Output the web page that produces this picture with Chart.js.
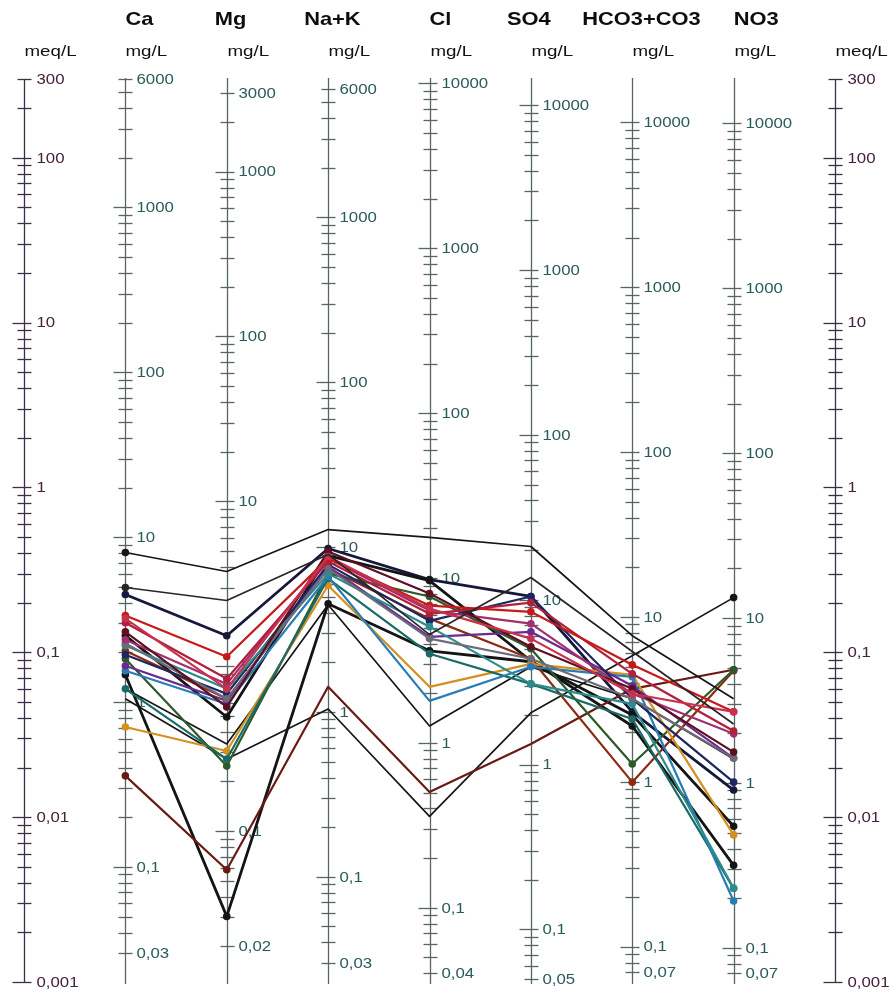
<!DOCTYPE html>
<html>
<head>
<meta charset="utf-8">
<script src="https://cdn.jsdelivr.net/npm/chart.js@4.4.1/dist/chart.umd.min.js"></script>
<style>
  html, body { margin: 0; padding: 0; background: #ffffff; }
  #wrap { width: 893px; height: 994px; position: relative; }
</style>
</head>
<body>
<div id="wrap"><canvas id="schoeller"></canvas></div>
<script>
// Ion columns of the Schoeller diagram and their equivalent weights (mg per meq)
const ions = ['Ca', 'Mg', 'Na+K', 'Cl', 'SO4', 'HCO3+CO3', 'NO3'];
const eqWeights = [20.04, 12.15, 23.0, 35.45, 48.03, 61.02, 62.0];

// Labelled mg/L values on each ion column (top to bottom)
const caLabels   = [6000, 1000, 100, 10, 1, 0.1, 0.03];
const mgLabels   = [3000, 1000, 100, 10, 1, 0.1, 0.02];
const naLabels   = [6000, 1000, 100, 10, 1, 0.1, 0.03];
const clLabels   = [10000, 1000, 100, 10, 1, 0.1, 0.04];
const so4Labels  = [10000, 1000, 100, 10, 1, 0.1, 0.05];
const hco3Labels = [10000, 1000, 100, 10, 1, 0.1, 0.07];
const no3Labels  = [10000, 1000, 100, 10, 1, 0.1, 0.07];
const columnLabels = [caLabels, mgLabels, naLabels, clLabels, so4Labels, hco3Labels, no3Labels];

// Labelled values on the meq/L axes
const meqLabels = [300, 100, 10, 1, 0.1, 0.01, 0.001];

// Sample concentrations in meq/L: Ca, Mg, Na+K, Cl, SO4, HCO3+CO3, NO3
const s01 = [0.403, 0.309, 0.555, 0.497, 0.438, 0.126, 0.0522];
const s02 = [0.247, 0.206, 0.392, 0.128, 0.284, 0.101, 0.0367];
const s03 = [0.224, 0.126, 0.426, 0.276, 0.218, 0.0435, 0.0146];
const s04 = [0.167, 0.094, 0.370, 0.192, 0.176, 0.0839, 0.0435];
const s05 = [0.151, 0.069, 0.355, 0.171, 0.200, 0.074, 0.0333];
const s06 = [0.133, 0.0466, 0.408, 0.227, 0.108, 0.060, 0.0248];
const s07 = [0.126, 0.0405, 0.386, 0.272, 0.0888, 0.0357, 0.0051];
const s08 = [0.110, 0.060, 0.300, 0.143, 0.0643, 0.0486, 0.0037];
const s09 = [0.0966, 0.056, 0.340, 0.155, 0.218, 0.0522, 0.0163];
const s10 = [0.0828, 0.0507, 0.331, 0.124, 0.133, 0.0626, 0.0228];
const s11 = [0.0772, 0.0486, 0.288, 0.0507, 0.0816, 0.071, 0.0031];
const s12 = [0.119, 0.0643, 0.370, 0.179, 0.149, 0.056, 0.032];
const s13 = [0.060, 0.0225, 0.280, 0.098, 0.0643, 0.0394, 0.0037];
const s14 = [0.0352, 0.0252, 0.254, 0.0617, 0.0851, 0.073, 0.0078];
const s15 = [0.0178, 0.0048, 0.0617, 0.0142, 0.0278, 0.060, 0.0783];
const s16 = [0.073, 0.0025, 0.197, 0.102, 0.0876, 0.0417, 0.0088];
const s17 = [0.0522, 0.0225, 0.0453, 0.0101, 0.0429, 0.0953, 0.2145];
const s18 = [0.060, 0.0278, 0.194, 0.0357, 0.0816, 0.0522, 0.0225];
const s19 = [0.0913, 0.0204, 0.300, 0.218, 0.105, 0.021, 0.0783];
const s20 = [0.102, 0.0522, 0.322, 0.160, 0.0913, 0.0163, 0.0772];
const s21 = [0.160, 0.060, 0.381, 0.184, 0.121, 0.056, 0.0435];
const s22 = [0.113, 0.0522, 0.322, 0.121, 0.0913, 0.0522, 0.0228];

// Line appearance for each sample (colour, width, which columns carry a dot)
const sampleStyles = [
  { data: s01, color: '#161616', width: 1.7, dots: [1,0,0,0,0,0,0] },
  { data: s02, color: '#2a2426', width: 1.7, dots: [1,0,0,0,0,0,0] },
  { data: s21, color: '#c8324e', width: 2.2, dots: [1,1,1,1,1,1,1] },
  { data: s04, color: '#c41a1a', width: 2.2, dots: [1,1,1,1,1,1,1] },
  { data: s05, color: '#b0203a', width: 2.2, dots: [1,1,1,1,1,1,1] },
  { data: s06, color: '#5c1020', width: 2.2, dots: [1,1,1,1,1,1,1] },
  { data: s12, color: '#a0306e', width: 2.2, dots: [1,1,1,1,1,1,1] },
  { data: s22, color: '#6e6a7a', width: 2.2, dots: [1,1,1,1,1,1,1] },
  { data: s08, color: '#2a8c8c', width: 2.2, dots: [1,1,1,1,1,1,1] },
  { data: s09, color: '#1c2660', width: 2.2, dots: [1,1,1,1,1,1,1] },
  { data: s10, color: '#6a2a8e', width: 2.2, dots: [1,1,1,1,1,1,1] },
  { data: s11, color: '#2a7cb4', width: 2.2, dots: [1,1,1,0,1,1,1] },
  { data: s13, color: '#1a6a66', width: 2.2, dots: [1,1,1,1,1,1,1] },
  { data: s14, color: '#d4901e', width: 2.2, dots: [1,1,1,0,1,1,1] },
  { data: s19, color: '#2c5a2a', width: 2.2, dots: [1,1,1,1,1,1,1] },
  { data: s20, color: '#8a2c12', width: 2.2, dots: [1,1,1,1,1,1,1] },
  { data: s15, color: '#6a1a14', width: 2.2, dots: [1,1,0,0,0,0,1] },
  { data: s18, color: '#161616', width: 1.7, dots: [0,0,0,0,0,0,0] },
  { data: s17, color: '#161616', width: 1.7, dots: [0,0,0,0,0,0,1] },
  { data: s16, color: '#141414', width: 2.8, dots: [1,1,1,1,1,1,1] },
  { data: s07, color: '#141414', width: 2.8, dots: [1,1,1,1,1,1,1] },
  { data: s03, color: '#15183a', width: 2.8, dots: [1,1,1,1,1,1,1] }
];

const FONT = "'Liberation Sans', Arial, sans-serif";

function fmt(v) {
  return String(v).replace('.', ',');
}

// Text with a slight horizontal stretch
function stretchedText(ctx, txt, x, y, font, color, sx) {
  ctx.save();
  ctx.font = font;
  ctx.fillStyle = color;
  ctx.textAlign = 'left';
  ctx.textBaseline = 'middle';
  ctx.translate(x, y);
  ctx.scale(sx, 1);
  ctx.fillText(txt, 0, 0);
  ctx.restore();
}

// All 1..9 x 10^k values between lo and hi
function logTicks(lo, hi) {
  const out = [];
  const k0 = Math.floor(Math.log10(lo)) - 1;
  const k1 = Math.ceil(Math.log10(hi)) + 1;
  for (let k = k0; k <= k1; k++) {
    for (let m = 1; m <= 9; m++) {
      const v = m * Math.pow(10, k);
      if (v >= lo * 0.999 && v <= hi * 1.001) out.push({ v, major: m === 1 });
    }
  }
  return out;
}

function drawTick(ctx, x, y, major) {
  ctx.beginPath();
  ctx.moveTo(x - (major ? 12 : 7), y);
  ctx.lineTo(x + 7, y);
  ctx.stroke();
}

const axesPlugin = {
  id: 'schoellerAxes',
  beforeDatasetsDraw(chart) {
    const ctx = chart.ctx;
    const xs = chart.scales.x;
    const ys = chart.scales.y;
    const area = chart.chartArea;
    const meqAxisColor = '#3c3048';
    const meqTextColor = '#44213e';
    const colAxisColor = '#5a6463';
    const colTextColor = '#2a5c5a';

    // meq/L axes on both sides
    [0, 8].forEach(pos => {
      const x = Math.round(xs.getPixelForValue(pos)) + 0.5;
      ctx.save();
      ctx.strokeStyle = meqAxisColor;
      ctx.lineWidth = 1.3;
      ctx.beginPath();
      ctx.moveTo(x, ys.getPixelForValue(300));
      ctx.lineTo(x, ys.getPixelForValue(0.001));
      ctx.stroke();
      logTicks(0.001, 300).forEach(t => drawTick(ctx, x, Math.round(ys.getPixelForValue(t.v)) + 0.5, t.major));
      ctx.restore();
      meqLabels.forEach(v => {
        stretchedText(ctx, fmt(v), x + 12, ys.getPixelForValue(v) + 1, '14px ' + FONT, meqTextColor, 1.2);
      });
      stretchedText(ctx, 'meq/L', x, 52, '15px ' + FONT, '#111111', 1.25);
    });

    // mg/L axis on each ion column
    ions.forEach((ion, i) => {
      const x = Math.round(xs.getPixelForValue(i + 1)) + 0.5;
      const w = eqWeights[i];
      const labels = columnLabels[i];
      const hi = Math.max(...labels);
      const lo = Math.min(...labels);
      ctx.save();
      ctx.strokeStyle = colAxisColor;
      ctx.lineWidth = 1.3;
      ctx.beginPath();
      ctx.moveTo(x, area.top - 1);
      ctx.lineTo(x, area.bottom + 2);
      ctx.stroke();
      logTicks(lo, hi).forEach(t => {
        drawTick(ctx, x, Math.round(ys.getPixelForValue(t.v / w)) + 0.5, t.major);
      });
      ctx.restore();
      labels.forEach(v => {
        stretchedText(ctx, fmt(v), x + 11, ys.getPixelForValue(v / w) + 1, '14px ' + FONT, colTextColor, 1.2);
      });
      stretchedText(ctx, 'mg/L', x, 52, '15px ' + FONT, '#111111', 1.25);
    });

    // Ion names above the columns
    const headShift = [0, -12, -24, 0, -24, -50, 0];
    ions.forEach((ion, i) => {
      const x = xs.getPixelForValue(i + 1) + headShift[i];
      stretchedText(ctx, ion, x, 20, 'bold 19px ' + FONT, '#0d0d0d', 1.15);
    });
  }
};

const datasets = sampleStyles.map((s, k) => ({
  label: 'Sample ' + (k + 1),
  data: s.data.map((v, i) => ({ x: i + 1, y: v })),
  borderColor: s.color,
  backgroundColor: s.color,
  borderWidth: s.width,
  pointRadius: s.dots.map(d => d ? 3.8 : 0),
  pointBorderWidth: 0,
  pointBackgroundColor: s.color,
  tension: 0,
  fill: false
}));

new Chart(document.getElementById('schoeller'), {
  type: 'line',
  data: { datasets },
  options: {
    responsive: true,
    maintainAspectRatio: false,
    animation: false,
    layout: { padding: { left: 24, right: 58, top: 79, bottom: 12 } },
    plugins: { legend: { display: false }, tooltip: { enabled: false } },
    scales: {
      x: { type: 'linear', min: 0, max: 8, display: false },
      y: { type: 'logarithmic', min: 0.001, max: 300, display: false }
    },
    elements: { line: { borderJoinStyle: 'round' } },
    clip: false
  },
  plugins: [axesPlugin]
});
</script>
</body>
</html>
